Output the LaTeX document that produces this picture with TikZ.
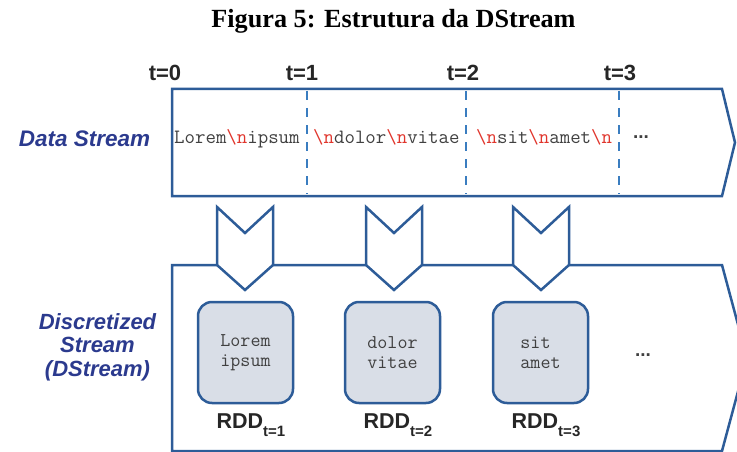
\documentclass[tikz,border=0pt]{standalone}
\usepackage{fontspec}
\setmainfont{Liberation Serif}
\setsansfont{Liberation Sans}
\definecolor{lblue}{HTML}{2B3A8E}
\definecolor{frameblue}{HTML}{2D5C98}
\definecolor{dashblue}{HTML}{3A7DC0}
\definecolor{nlred}{HTML}{E0352C}
\definecolor{codegrey}{HTML}{404040}
\definecolor{rddfill}{HTML}{D9DEE7}
\newcommand\nlc{\textcolor{nlred}{\textbackslash n}}
\newcommand\fsz[1]{\fontsize{#1}{#1}\selectfont}
\newcommand\fszl[2]{\fontsize{#1}{#2}\selectfont}
\newcommand\codefont{\ttfamily\addfontfeatures{FakeBold=1.2}}
\newcommand\rddlabel[1]{RDD\raisebox{-0.38em}{\fsz{15}t=#1}}
\begin{document}
\begin{tikzpicture}[x=1pt,y=-1pt,
  frame/.style={draw=frameblue,line width=2.5pt,line join=miter},
  slicer/.style={draw=dashblue,line width=2.8pt,dash pattern=on 9pt off 8pt},
  code/.style={inner sep=0pt,font=\codefont\fsz{20.3},text=codegrey},
  tlabel/.style={inner sep=0pt,font=\sffamily\bfseries\fsz{22},text=black!85},
  side/.style={inner sep=0pt,font=\sffamily\bfseries\itshape\fsz{22.5},text=lblue},
  rddbox/.style={draw=frameblue,fill=rddfill,line width=2.5pt,rounded corners=14pt,
    minimum width=95pt,minimum height=101pt,inner sep=0pt},
  rddtext/.style={inner sep=0pt,text=codegrey,align=left,font=\codefont\fszl{19.5}{20.5}},
  rddname/.style={inner sep=0pt,font=\sffamily\bfseries\fsz{21.5},text=black!85},
  dots/.style={inner sep=0pt,font=\sffamily\bfseries\fsz{19},text=black!75},
  chevron/.style={draw=frameblue,fill=white,line width=2.5pt,line join=miter}]
\useasboundingbox (0,0) rectangle (737,452);
\clip (0,0) rectangle (737,452);

% title
\node[inner sep=0pt,anchor=base,font=\rmfamily\bfseries\fsz{26.2}] (title) at (393.5,28) {Figura 5: Estrutura da DStream};

% time marks
\node[tlabel,anchor=base] (t0) at (165,81) {t=0};
\node[tlabel,anchor=base] (t1) at (302,81) {t=1};
\node[tlabel,anchor=base] (t2) at (463,81) {t=2};
\node[tlabel,anchor=base] (t3) at (620,81) {t=3};

% data stream band
\draw[frame] (172,89) -- (722,89) -- (735,142.5) -- (722,196) -- (172,196) -- cycle;
\coordinate (s1top) at (307,91); \coordinate (s1bot) at (307,194);
\coordinate (s2top) at (466,91); \coordinate (s2bot) at (466,194);
\coordinate (s3top) at (619,91); \coordinate (s3bot) at (619,194);
\draw[slicer] (s1top) -- (s1bot);
\draw[slicer] (s2top) -- (s2bot);
\draw[slicer] (s3top) -- (s3bot);
\node[side] (ds) at (84.5,139) {Data Stream};
\node[code,anchor=base west] (seg1) at (174,143) {Lorem\nlc ipsum};
\node[code,anchor=base west] (seg2) at (313,143) {\nlc dolor\nlc vitae};
\node[code,anchor=base west] (seg3) at (476,143) {\nlc sit\nlc amet\nlc};
\node[dots,anchor=base] (more1) at (641,139) {...};

% discretized stream band
\draw[frame] (172,451) -- (172,265) -- (722,265) -- (747,358) -- (722,451) -- cycle;
\node[side,align=center,font=\sffamily\bfseries\itshape\fszl{22}{23.5}] (dsl) at (97.5,347) {Discretized\\Stream\\(DStream)};

% batching chevrons
\foreach \cx/\nm in {245/c1,394/c2,541/c3}{
  \draw[chevron] (\cx-28,207) -- (\cx,233) -- (\cx+28,207) -- (\cx+28,265)
    -- (\cx,290) -- (\cx-28,265) -- cycle;
  \coordinate (\nm) at (\cx,290);
}

% RDDs
\node[rddbox] (r1) at (245.5,352.5) {};
\node[rddbox] (r2) at (392.5,352.5) {};
\node[rddbox] (r3) at (540.5,352.5) {};
\node[rddtext] (r1t) at (r1) {Lorem\\ipsum};
\node[rddtext] (r2t) at (r2) {dolor\\vitae};
\node[rddtext] (r3t) at (r3) {sit\\amet};
\node[dots,anchor=base] (more2) at (643,356) {...};
\node[rddname,anchor=base] (n1) at (251,428) {\rddlabel{1}};
\node[rddname,anchor=base] (n2) at (398,428) {\rddlabel{2}};
\node[rddname,anchor=base] (n3) at (546,428) {\rddlabel{3}};
\end{tikzpicture}
\end{document}
